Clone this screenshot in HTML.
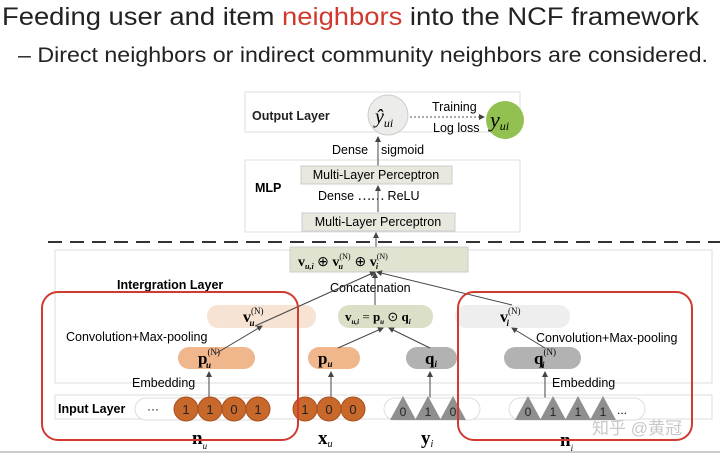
<!DOCTYPE html>
<html><head><meta charset="utf-8"><style>
body{margin:0;background:#fff;width:720px;height:453px;overflow:hidden}
svg{display:block}
text{font-family:"Liberation Sans","Noto Sans CJK SC",sans-serif}
.s{font-family:"Liberation Serif",serif}
</style></head><body>
<svg width="720" height="453" viewBox="0 0 720 453">
<defs><marker id="a" markerWidth="6" markerHeight="6" refX="5" refY="3" orient="auto"><path d="M0,0L6,3L0,6z" fill="#444"/></marker></defs>
<text x="2" y="25" font-size="25" fill="#222" textLength="697" lengthAdjust="spacingAndGlyphs">Feeding user and item <tspan fill="#d0392b">neighbors</tspan> into the NCF framework</text>
<text x="18" y="62" font-size="21" fill="#222" textLength="690" lengthAdjust="spacingAndGlyphs">–  Direct neighbors or indirect community neighbors are considered.</text>
<!-- boxes -->
<rect x="245" y="92" width="275" height="40" fill="#fff" stroke="#ddd"/>
<rect x="245" y="160" width="275" height="72" fill="#fff" stroke="#ddd"/>
<line x1="48" y1="242" x2="720" y2="242" stroke="#333" stroke-width="2" stroke-dasharray="14,8"/>
<rect x="55" y="250" width="657" height="133" fill="#fff" stroke="#ddd"/>
<rect x="55" y="395" width="657" height="24" fill="#fff" stroke="#ddd"/>
<!-- output -->
<text x="252" y="120" font-size="12.5" font-weight="bold" fill="#222">Output Layer</text>
<circle cx="388" cy="115" r="20" fill="#ececea" stroke="#ccc"/>
<text x="375" y="123" class="s" font-size="20" font-style="italic">ŷ<tspan font-size="12" dy="4">ui</tspan></text>
<line x1="410" y1="117" x2="484" y2="117" stroke="#555" stroke-dasharray="2,2" marker-end="url(#a)"/>
<text x="432" y="111" font-size="12.5">Training</text>
<text x="433" y="132" font-size="12.5">Log loss</text>
<circle cx="505" cy="120" r="19" fill="#93c151"/>
<text x="490" y="127" class="s" font-size="22" font-style="italic">y<tspan font-size="12" dy="3">ui</tspan></text>
<line x1="378" y1="166" x2="378" y2="137" stroke="#444" marker-end="url(#a)"/>
<text x="332" y="154" font-size="12.5">Dense</text>
<text x="381" y="154" font-size="12.5">sigmoid</text>
<!-- MLP -->
<rect x="301" y="166" width="151" height="18" fill="#e8e8df" stroke="#ccc"/>
<text x="376" y="179" font-size="12.5" text-anchor="middle">Multi-Layer Perceptron</text>
<text x="255" y="192" font-size="12.5" font-weight="bold">MLP</text>
<text x="318" y="200" font-size="12.5">Dense ⋯⋯ ReLU</text>
<rect x="302" y="213" width="153" height="18" fill="#e8e8df" stroke="#ccc"/>
<text x="378" y="226" font-size="12.5" text-anchor="middle">Multi-Layer Perceptron</text>
<line x1="378" y1="212" x2="378" y2="186" stroke="#444" marker-end="url(#a)"/>
<line x1="376" y1="247" x2="376" y2="233" stroke="#444" marker-end="url(#a)"/>
<!-- concat -->
<rect x="290" y="247" width="178" height="25" fill="#dfe3cf" stroke="#ccc"/>
<text x="298" y="266" class="s" font-size="14" font-weight="bold">v<tspan font-size="8" dy="3" font-style="italic">u,i</tspan><tspan dy="-3" font-weight="normal"> ⊕ </tspan>v<tspan font-size="8" dy="-7" font-weight="normal">(N)</tspan><tspan font-size="8" dx="-12" dy="10" font-style="italic">u</tspan><tspan dy="-3" dx="8" font-weight="normal"> ⊕ </tspan>v<tspan font-size="8" dy="-7" font-weight="normal">(N)</tspan><tspan font-size="8" dx="-12" dy="10" font-style="italic">i</tspan></text>
<text x="117" y="289" font-size="12.5" font-weight="bold">Intergration Layer</text>
<text x="330" y="292" font-size="12.5">Concatenation</text>
<!-- pills row -->
<rect x="207" y="305" width="109" height="23" rx="11" fill="#f7e3d3"/>
<text x="243" y="322" class="s" font-size="16" font-weight="bold">v<tspan font-size="9" dy="-8" font-weight="normal">(N)</tspan><tspan font-size="9" dx="-14" dy="12" font-style="italic">u</tspan></text>
<rect x="338" y="305" width="95" height="23" rx="11" fill="#dcdfc8"/>
<text x="345" y="321" class="s" font-size="13" font-weight="bold">v<tspan font-size="7" dy="3" font-style="italic">u,i</tspan><tspan dy="-3" font-weight="normal"> = </tspan>p<tspan font-size="7" dy="3" font-style="italic">u</tspan><tspan dy="-3" font-weight="normal"> ⊙ </tspan>q<tspan font-size="7" dy="3" font-style="italic">i</tspan></text>
<rect x="455" y="305" width="115" height="23" rx="11" fill="#eeeeee"/>
<text x="500" y="322" class="s" font-size="16" font-weight="bold">v<tspan font-size="9" dy="-8" font-weight="normal">(N)</tspan><tspan font-size="9" dx="-14" dy="12" font-style="italic">i</tspan></text>
<text x="66" y="341" font-size="12.5">Convolution+Max-pooling</text>
<text x="536" y="342" font-size="12.5">Convolution+Max-pooling</text>
<rect x="178" y="347" width="77" height="22" rx="11" fill="#f0b68c"/>
<text x="198" y="364" class="s" font-size="17" font-weight="bold">p<tspan font-size="9" dy="-9" font-weight="normal">(N)</tspan><tspan font-size="9" dx="-14" dy="13" font-style="italic">u</tspan></text>
<rect x="308" y="347" width="52" height="22" rx="11" fill="#f0b68c"/>
<text x="318" y="364" class="s" font-size="17" font-weight="bold">p<tspan font-size="9" dy="3" font-style="italic">u</tspan></text>
<rect x="406" y="347" width="51" height="22" rx="11" fill="#b2b2b2"/>
<text x="425" y="364" class="s" font-size="17" font-weight="bold">q<tspan font-size="9" dy="3" font-style="italic">i</tspan></text>
<rect x="504" y="347" width="77" height="22" rx="11" fill="#b2b2b2"/>
<text x="534" y="364" class="s" font-size="17" font-weight="bold">q<tspan font-size="9" dy="-9" font-weight="normal">(N)</tspan><tspan font-size="9" dx="-14" dy="13" font-style="italic">i</tspan></text>
<!-- connectors -->
<g stroke="#444" fill="none">
<line x1="255" y1="326" x2="375" y2="272" marker-end="url(#a)"/>
<line x1="375" y1="305" x2="375" y2="273" marker-end="url(#a)"/>
<line x1="512" y1="305" x2="377" y2="272" marker-end="url(#a)"/>
<line x1="215" y1="354" x2="262" y2="326" marker-end="url(#a)"/>
<line x1="545" y1="348" x2="512" y2="328" marker-end="url(#a)"/>
<line x1="338" y1="348" x2="383" y2="328" marker-end="url(#a)"/>
<line x1="430" y1="348" x2="389" y2="328" marker-end="url(#a)"/>
<line x1="209" y1="398" x2="209" y2="372" marker-end="url(#a)"/>
<line x1="331" y1="398" x2="331" y2="372" marker-end="url(#a)"/>
<line x1="430" y1="398" x2="430" y2="372" marker-end="url(#a)"/>
<line x1="545" y1="398" x2="545" y2="372" marker-end="url(#a)"/>
</g>
<text x="132" y="387" font-size="12.5">Embedding</text>
<text x="552" y="387" font-size="12.5">Embedding</text>
<!-- input layer -->
<text x="58" y="413" font-size="12.5" font-weight="bold">Input Layer</text>
<rect x="135" y="398" width="135" height="22" rx="11" fill="#fff" stroke="#ddd"/>
<text x="147" y="413" font-size="12">···</text>
<g fill="#c8682a" stroke="#a85020">
<circle cx="186" cy="409" r="12"/><circle cx="210" cy="409" r="12"/><circle cx="234" cy="409" r="12"/><circle cx="258" cy="409" r="12"/>
<circle cx="305" cy="409" r="12"/><circle cx="329" cy="409" r="12"/><circle cx="353" cy="409" r="12"/>
</g>
<g font-size="13" fill="#222" text-anchor="middle">
<text x="186" y="414">1</text><text x="210" y="414">1</text><text x="234" y="414">0</text><text x="258" y="414">1</text>
<text x="305" y="414">1</text><text x="329" y="414">0</text><text x="353" y="414">0</text>
</g>
<rect x="384" y="398" width="96" height="22" rx="11" fill="#fff" stroke="#ddd"/>
<rect x="509" y="398" width="136" height="22" rx="11" fill="#fff" stroke="#ddd"/>
<g fill="#8f8f8f">
<path d="M403,396L416,420L390,420z"/><path d="M428,396L441,420L415,420z"/><path d="M453,396L466,420L440,420z"/>
<path d="M528,396L541,420L515,420z"/><path d="M553,396L566,420L540,420z"/><path d="M578,396L591,420L565,420z"/><path d="M603,396L616,420L590,420z"/>
</g>
<g font-size="12" fill="#222" text-anchor="middle">
<text x="403" y="416">0</text><text x="428" y="416">1</text><text x="453" y="416">0</text>
<text x="528" y="416">0</text><text x="553" y="416">1</text><text x="578" y="416">1</text><text x="603" y="416">1</text>
</g>
<text x="617" y="414" font-size="12">...</text>
<!-- bottom labels -->
<text x="192" y="444" class="s" font-size="19" font-weight="bold">n<tspan font-size="9" dy="5" font-style="italic" font-weight="normal">u</tspan></text>
<text x="318" y="444" class="s" font-size="19" font-weight="bold">x<tspan font-size="10" dy="3" font-style="italic" font-weight="normal">u</tspan></text>
<text x="421" y="444" class="s" font-size="19" font-weight="bold">y<tspan font-size="10" dy="3" font-style="italic" font-weight="normal">i</tspan></text>
<text x="560" y="446" class="s" font-size="19" font-weight="bold">n<tspan font-size="9" dy="5" font-style="italic" font-weight="normal">i</tspan></text>
<!-- red boxes -->
<rect x="42" y="292" width="256" height="148" rx="16" fill="none" stroke="#d03a30" stroke-width="2"/>
<rect x="458" y="292" width="234" height="148" rx="16" fill="none" stroke="#d03a30" stroke-width="2"/>
<text x="592" y="434" font-size="17" fill="#c8c8c8">知乎 @黄冠</text>
<line x1="0" y1="452" x2="720" y2="452" stroke="#999"/>
</svg>
</body></html>
